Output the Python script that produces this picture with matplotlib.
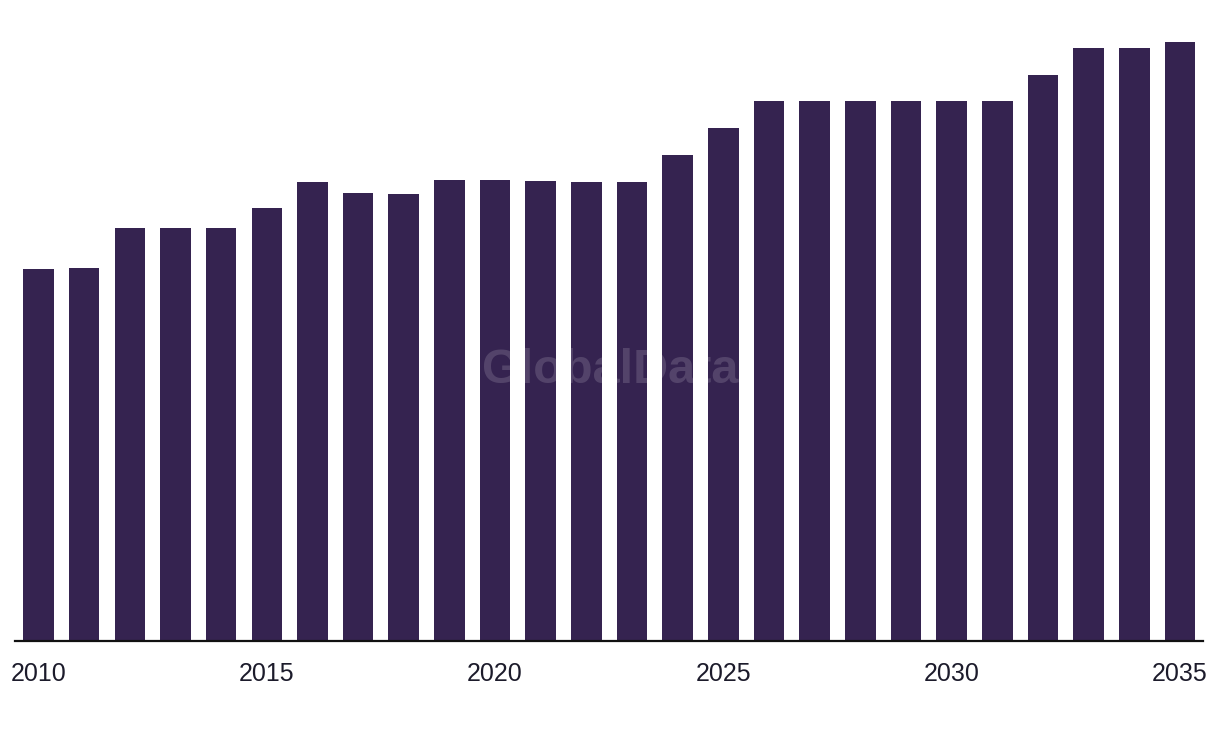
import matplotlib
matplotlib.use("Agg")
import matplotlib.pyplot as plt

# years and bar heights (arbitrary units)
years = list(range(2010, 2036))
values = [372, 373, 413, 413, 413, 433, 459, 448, 447, 461, 461, 460, 459,
          459, 486, 513, 540, 540, 540, 540, 540, 540, 566, 593, 593, 599]
tick_years = [2010, 2015, 2020, 2025, 2030, 2035]

BAR_COLOR = "#352350"
TEXT_COLOR = "#1c1b2b"

plt.rcParams["font.family"] = ["Liberation Sans", "DejaVu Sans"]

fig = plt.figure(figsize=(12.2, 7.38), dpi=100)
ax = fig.add_axes([15 / 1220, 97 / 738, 1188 / 1220, 641 / 738])

ax.bar(years, values, width=0.67, color=BAR_COLOR, zorder=2)

ax.set_xlim(2009.485, 2035.505)
ax.set_ylim(0, 641)

for side in ["top", "right", "left"]:
    ax.spines[side].set_visible(False)
ax.spines["bottom"].set_color("#111111")
ax.spines["bottom"].set_linewidth(1.6)
ax.spines["bottom"].set_zorder(3)

ax.set_yticks([])
ax.set_xticks(tick_years)
ax.set_xticklabels([str(y) for y in tick_years], fontsize=18, color=TEXT_COLOR)
ax.tick_params(axis="x", length=0, pad=15)

# watermark
fig.text(0.5, 0.498, "GlobalData", fontsize=35, fontweight="bold",
         color="white", alpha=0.15, ha="center", va="center", zorder=5)

fig.savefig("out.png", dpi=100)
